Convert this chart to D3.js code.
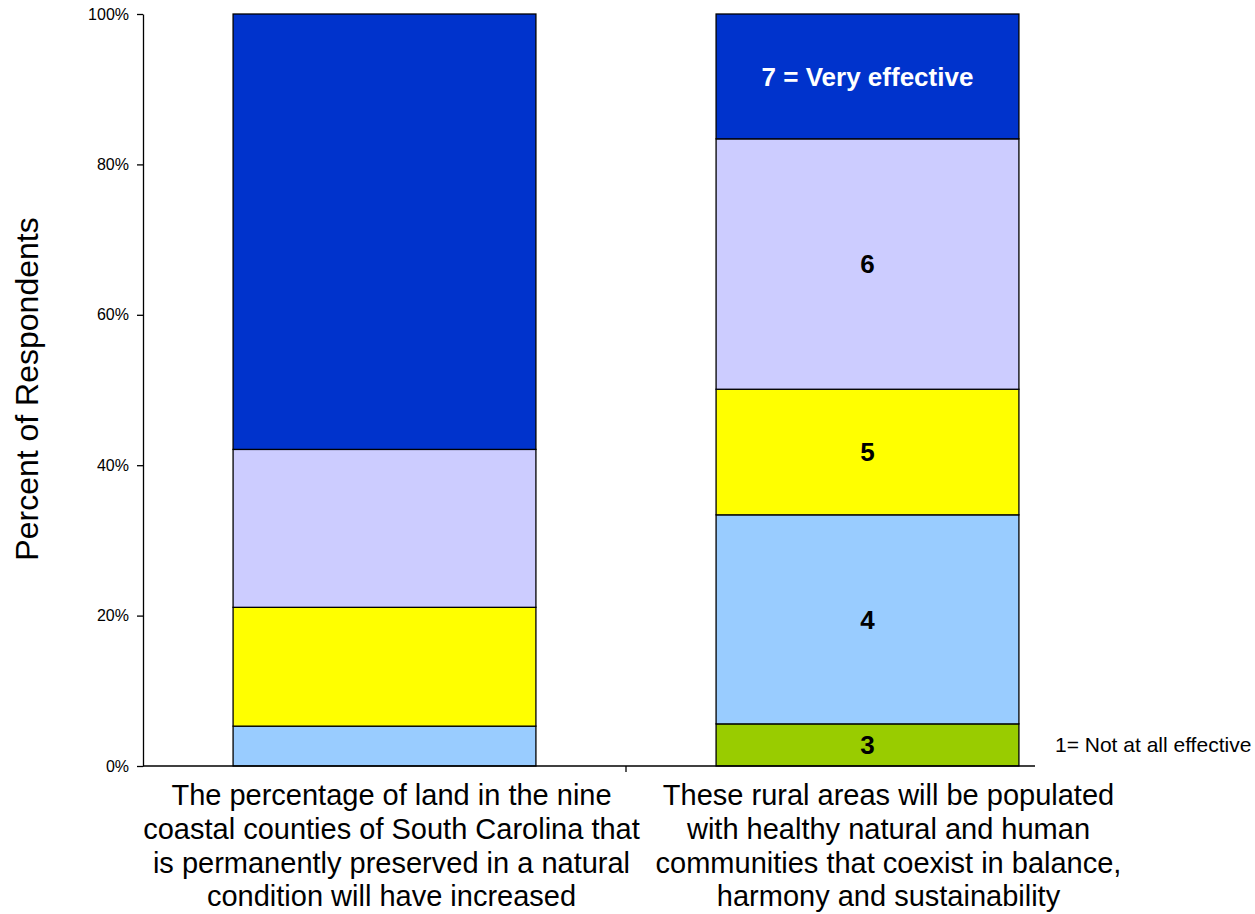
<!DOCTYPE html>
<html>
<head>
<meta charset="utf-8">
<script src="https://cdn.jsdelivr.net/npm/d3@7"></script>
<style>
  html, body { margin: 0; padding: 0; background: #fff; }
  svg { display: block; font-family: Arial, "Liberation Sans", sans-serif; }
</style>
</head>
<body>
<svg id="chart" width="1255" height="914"></svg>
<script>
// Survey statements (x categories), each drawn as a 100% stacked bar
const categories = [
  "The percentage of land in the nine coastal counties of South Carolina that is permanently preserved in a natural condition will have increased",
  "These rural areas will be populated with healthy natural and human communities that coexist in balance, harmony and sustainability"
];
const categoryLines = [
  ["The percentage of land in the nine", "coastal counties of South Carolina that", "is permanently preserved in a natural", "condition will have increased"],
  ["These rural areas will be populated", "with healthy natural and human", "communities that coexist in balance,", "harmony and sustainability"]
];

// Rating levels, bottom to top
const levels = ["3", "4", "5", "6", "7"];
const levelLabels = ["3", "4", "5", "6", "7 = Very effective"];
const levelColors = ["#99cc00", "#99ccff", "#ffff00", "#ccccff", "#0033cc"];
const levelTextColors = ["#000", "#000", "#000", "#000", "#fff"];

// Percent of respondents for each level, one value per category
const level3 = [0.0, 5.6];
const level4 = [5.3, 27.8];
const level5 = [15.8, 16.7];
const level6 = [21.0, 33.3];
const level7 = [57.9, 16.6];

// Category that carries in-bar labels
const labelledCategory = 1;

const yTicks = [0, 20, 40, 60, 80, 100];
const yTitle = "Percent of Respondents";
const scaleNote = "1= Not at all effective";

const series = [level3, level4, level5, level6, level7];
const rows = categories.map((c, i) => {
  const r = { category: c };
  levels.forEach((lv, j) => { r[lv] = series[j][i]; });
  return r;
});

const svg = d3.select("#chart");

const plotLeft = 143, plotRight = 1109, plotTop = 14, plotBottom = 766;

const x = d3.scaleBand()
  .domain(categories)
  .range([plotLeft, plotRight])
  .paddingInner(0.373)
  .paddingOuter(0.1865);

const xLabel = d3.scaleBand()
  .domain(categories)
  .range([plotLeft, 1137]);

const y = d3.scaleLinear().domain([0, 100]).range([plotBottom, plotTop]);

const stack = d3.stack().keys(levels);
const stacked = stack(rows);

// Stacked segments
const layer = svg.append("g").selectAll("g")
  .data(stacked)
  .join("g")
  .attr("fill", (d, i) => levelColors[i]);

layer.selectAll("rect")
  .data(d => d.filter(s => s[1] - s[0] > 0))
  .join("rect")
  .attr("x", d => x(d.data.category))
  .attr("width", x.bandwidth())
  .attr("y", d => y(d[1]))
  .attr("height", d => y(d[0]) - y(d[1]))
  .attr("stroke", "#000")
  .attr("stroke-width", 1.3);

// In-bar level labels
stacked.forEach((s, i) => {
  const seg = s[labelledCategory];
  if (seg[1] - seg[0] <= 0) return;
  svg.append("text")
    .attr("x", x(categories[labelledCategory]) + x.bandwidth() / 2)
    .attr("y", (y(seg[0]) + y(seg[1])) / 2)
    .attr("dy", "0.36em")
    .attr("text-anchor", "middle")
    .attr("font-size", 26)
    .attr("font-weight", "bold")
    .attr("fill", levelTextColors[i])
    .text(levelLabels[i]);
});

// Y axis
const yAxis = d3.axisLeft(y)
  .tickValues(yTicks)
  .tickFormat(d => d + "%")
  .tickSizeInner(6)
  .tickSizeOuter(0)
  .tickPadding(8);

const yg = svg.append("g")
  .attr("transform", `translate(${plotLeft},0)`)
  .call(yAxis);
yg.select(".domain").attr("stroke", "#000").attr("stroke-width", 1.3);
yg.selectAll(".tick line").attr("stroke", "#000").attr("stroke-width", 1.3);
yg.selectAll(".tick text")
  .attr("font-family", "Arial, 'Liberation Sans', sans-serif")
  .attr("font-size", 16)
  .attr("fill", "#000");

// X axis baseline with a divider tick between categories
svg.append("line")
  .attr("x1", plotLeft).attr("x2", 1035)
  .attr("y1", plotBottom).attr("y2", plotBottom)
  .attr("stroke", "#000").attr("stroke-width", 1.3);

const step = x.step();
const dividers = categories.slice(1).map(c => x(c) - step * x.paddingInner() / 2);
svg.selectAll(".divider")
  .data(dividers)
  .join("line")
  .attr("class", "divider")
  .attr("x1", d => d).attr("x2", d => d)
  .attr("y1", plotBottom).attr("y2", plotBottom + 6)
  .attr("stroke", "#000").attr("stroke-width", 1.3);

// Category labels
categories.forEach((c, i) => {
  const t = svg.append("text")
    .attr("text-anchor", "middle")
    .attr("font-size", 29)
    .attr("fill", "#000");
  categoryLines[i].forEach((line, k) => {
    t.append("tspan")
      .attr("x", xLabel(c) + xLabel.bandwidth() / 2)
      .attr("y", 805 + k * 33.8)
      .text(line);
  });
});

// Y axis title
svg.append("text")
  .attr("transform", `translate(38,${(y(0) + y(100)) / 2 - 1}) rotate(-90)`)
  .attr("text-anchor", "middle")
  .attr("font-size", 32)
  .attr("fill", "#000")
  .text(yTitle);

// Scale note beside the baseline
svg.append("text")
  .attr("x", 1055)
  .attr("y", 752)
  .attr("font-size", 21)
  .attr("fill", "#000")
  .text(scaleNote);
</script>
</body>
</html>
